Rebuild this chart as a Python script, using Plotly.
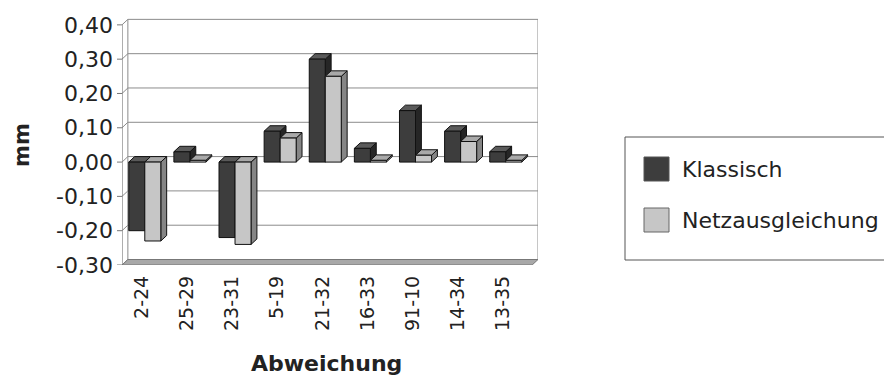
import plotly.graph_objects as go

categories = ["2-24", "25-29", "23-31", "5-19", "21-32", "16-33", "91-10", "14-34", "13-35"]
klassisch = [-0.20, 0.03, -0.22, 0.09, 0.30, 0.04, 0.15, 0.09, 0.03]
netzausgleichung = [-0.23, 0.005, -0.24, 0.07, 0.25, 0.005, 0.02, 0.06, 0.005]
y_ticks = [-0.30, -0.20, -0.10, 0.00, 0.10, 0.20, 0.30, 0.40]
y_ticktext = ["-0,30", "-0,20", "-0,10", "0,00", "0,10", "0,20", "0,30", "0,40"]

FONT = "DejaVu Sans"
DX, DY = 0.13, 0.016          # 3D depth in axis units
BW = 0.355                    # bar width (category units)
X0 = -0.44                    # front-left corner of the plot box
X_END = 8.78
Y_MIN, Y_MAX = -0.30, 0.40

# page body has an 8px margin; figure sized so it ends at the window edge
OFF = 8
W, H = 892 - OFF, 379 - OFF


def faces(vals, left):
    fx, fy, tx, ty, sx, sy = [], [], [], [], [], []
    for i, v in enumerate(vals):
        x0 = i + left
        x1 = x0 + BW
        top, bot = max(v, 0), min(v, 0)
        fx += [x0, x1, x1, x0, x0, None]
        fy += [bot, bot, top, top, bot, None]
        tx += [x0, x0 + DX, x1 + DX, x1, x0, None]
        ty += [top, top + DY, top + DY, top, top, None]
        sx += [x1, x1 + DX, x1 + DX, x1, x1, None]
        sy += [bot, bot + DY, top + DY, top, bot, None]
    return (fx, fy), (tx, ty), (sx, sy)


fig = go.Figure()

series = [
    ("Klassisch", klassisch, -0.29, "#3d3d3d", "#5a5a5a", "#262626"),
    ("Netzausgleichung", netzausgleichung, -0.29 + BW, "#c6c6c6", "#a9a9a9", "#858585"),
]
for name, vals, left, cfront, ctop, cside in series:
    front, top, side = faces(vals, left)
    for (xs, ys), col in ((side, cside), (top, ctop), (front, cfront)):
        fig.add_trace(go.Scatter(
            x=xs, y=ys, mode="lines", fill="toself", fillcolor=col,
            line=dict(color="#111111", width=1), name=name,
            showlegend=False, hoverinfo="skip"))

shapes = []
gridc = "#8c8c8c"
for v in y_ticks:
    if v != Y_MIN:
        shapes.append(dict(type="line", xref="x", yref="y", x0=X0 + DX, x1=X_END, y0=v + DY, y1=v + DY,
                           line=dict(color=gridc, width=1), layer="below"))
    shapes.append(dict(type="line", xref="x", yref="y", x0=X0, x1=X0 + DX, y0=v, y1=v + DY,
                       line=dict(color=gridc, width=1), layer="below"))
shapes.append(dict(type="line", xref="x", yref="y", x0=X0 + DX, x1=X0 + DX, y0=Y_MIN + DY, y1=Y_MAX + DY,
                   line=dict(color=gridc, width=1), layer="below"))
shapes.append(dict(type="line", xref="x", yref="y", x0=X_END, x1=X_END, y0=Y_MIN + DY, y1=Y_MAX + DY,
                   line=dict(color=gridc, width=1), layer="below"))
shapes.append(dict(type="line", xref="x", yref="y", x0=X0, x1=X0, y0=Y_MIN, y1=Y_MAX,
                   line=dict(color="#777777", width=1.2), layer="below"))
shapes.append(dict(type="path", xref="x", yref="y",
                   path=f"M {X0},{Y_MIN} L {X_END - DX},{Y_MIN} L {X_END},{Y_MIN + DY} L {X0 + DX},{Y_MIN + DY} Z",
                   fillcolor="#a8a8a8", line=dict(color="#777777", width=1), layer="below"))
for v in y_ticks:
    shapes.append(dict(type="line", xref="paper", yref="y", x0=-0.012, x1=0, y0=v, y1=v,
                       line=dict(color="#777777", width=1)))

# plot box in window pixels
L, R, T, B = 122 - OFF, 538 - OFF, 18 - OFF, 265 - OFF
def px(x): return (x - OFF - L) / (R - L)
def py(y): return (B - (y - OFF)) / (B - T)

shapes.append(dict(type="rect", xref="paper", yref="paper", x0=px(625), x1=px(891), y0=py(137), y1=py(260),
                   line=dict(color="#555555", width=1), fillcolor="white"))
shapes.append(dict(type="rect", xref="paper", yref="paper", x0=px(644), x1=px(669), y0=py(157), y1=py(181),
                   line=dict(color="#555555", width=1), fillcolor="#3d3d3d"))
shapes.append(dict(type="rect", xref="paper", yref="paper", x0=px(644), x1=px(669), y0=py(208), y1=py(232),
                   line=dict(color="#666666", width=1), fillcolor="#c6c6c6"))

annotations = [
    dict(text="Klassisch", xref="paper", yref="paper", x=px(680), y=py(169), xanchor="left", yanchor="middle",
         showarrow=False, font=dict(family=FONT, size=22, color="#222222")),
    dict(text="Netzausgleichung", xref="paper", yref="paper", x=px(680), y=py(220), xanchor="left", yanchor="middle",
         showarrow=False, font=dict(family=FONT, size=22, color="#222222")),
    dict(text="<b>mm</b>", xref="paper", yref="paper", x=px(22), y=py(145), xanchor="center", yanchor="middle",
         textangle=-90, showarrow=False, font=dict(family=FONT, size=21, color="#222222")),
    dict(text="<b>Abweichung</b>", xref="paper", yref="paper", x=px(326), y=py(363), xanchor="center", yanchor="middle",
         showarrow=False, font=dict(family=FONT, size=22, color="#222222")),
]

fig.update_layout(
    template="none",
    width=W, height=H, autosize=False,
    margin=dict(l=L, r=W - R, t=T, b=H - B, autoexpand=False),
    paper_bgcolor="white", plot_bgcolor="white",
    font=dict(family=FONT, size=22, color="#222222"),
    shapes=shapes, annotations=annotations,
    showlegend=False,
    xaxis=dict(range=[X0, X_END], tickvals=list(range(len(categories))), ticktext=categories,
               tickangle=-90, showgrid=False, zeroline=False, showline=False, ticks="", automargin=False,
               tickfont=dict(family=FONT, size=19, color="#222222"), ticklabelstandoff=6, fixedrange=True),
    yaxis=dict(range=[Y_MIN, Y_MAX + 0.02], tickvals=y_ticks, ticktext=y_ticktext, automargin=False,
               showgrid=False, zeroline=False, showline=False, ticks="",
               tickfont=dict(family=FONT, size=22, color="#222222"), ticklabelstandoff=8, fixedrange=True),
)

fig.write_html("out.html")
